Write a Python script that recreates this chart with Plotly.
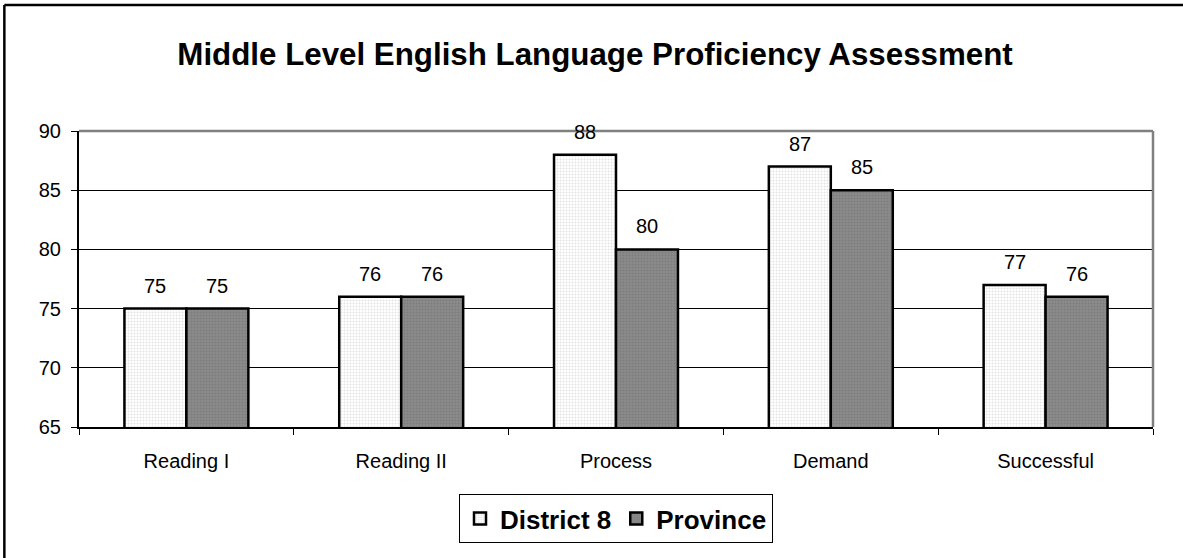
import plotly.graph_objects as go

# Assessment results by skill area
categories = ["Reading I", "Reading II", "Process", "Demand", "Successful"]
district8 = [75, 76, 88, 87, 77]
province = [75, 76, 80, 85, 76]
y_ticks = [65, 70, 75, 80, 85, 90]

font_family = "Liberation Sans, Arial, sans-serif"

fig = go.Figure()
fig.add_trace(go.Bar(
    name="District 8", x=categories, y=district8,
    marker=dict(color="white", line=dict(color="black", width=2.5),
                pattern=dict(shape=".", fgcolor="#c8c8c8", bgcolor="white", size=3, solidity=0.35)),
))
fig.add_trace(go.Bar(
    name="Province", x=categories, y=province,
    marker=dict(color="#808080", line=dict(color="black", width=2.5),
                pattern=dict(shape=".", fgcolor="#6e6e6e", bgcolor="#8a8a8a", size=3, solidity=0.35)),
))

# value labels above each bar
for vals, shift in [(district8, -31), (province, 31)]:
    for c, v in zip(categories, vals):
        fig.add_annotation(x=c, y=v, text=str(v), showarrow=False, xshift=shift, yshift=23,
                           yanchor="middle", font=dict(size=20, color="black", family=font_family))

# top and right plot border in grey
fig.add_shape(type="line", xref="paper", yref="paper", x0=0, x1=1, y0=1, y1=1,
              line=dict(color="#808080", width=2.5))
fig.add_shape(type="line", xref="paper", yref="paper", x0=1, x1=1, y0=0, y1=1,
              line=dict(color="#808080", width=2.5))

# outer chart frame: only its left and top edges fall inside the picture
fig.add_shape(type="line", xref="paper", yref="paper", x0=-0.0695, x1=1.2, y0=1.426, y1=1.426,
              line=dict(color="black", width=2.5), layer="below")
fig.add_shape(type="line", xref="paper", yref="paper", x0=-0.0695, x1=-0.0695, y0=-0.7, y1=1.426,
              line=dict(color="black", width=2.5), layer="below")

fig.update_layout(
    width=1183, height=558,
    margin=dict(l=79, r=30, t=131, b=131),
    paper_bgcolor="white", plot_bgcolor="white",
    barmode="group", bargap=0.423, bargroupgap=0,
    font=dict(family=font_family, color="black", size=20),
    title=dict(text="<b>Middle Level English Language Proficiency Assessment</b>",
               x=0.503, xanchor="center", y=0.903, yanchor="middle",
               font=dict(size=31.3, color="black", family=font_family)),
    showlegend=True,
    legend=dict(orientation="h", x=0.5, xanchor="center", y=-0.227, yanchor="top",
                bordercolor="black", borderwidth=1, bgcolor="white",
                font=dict(size=26, color="black", family=font_family, weight="bold"),
                itemwidth=30, traceorder="normal"),
)
fig.update_xaxes(showline=True, linecolor="black", linewidth=2,
                 ticks="outside", tickson="boundaries", ticklen=6, tickcolor="black",
                 tickfont=dict(size=20), ticklabelstandoff=15, showgrid=False)
fig.update_yaxes(range=[65, 90], tickvals=y_ticks, showline=True, linecolor="black", linewidth=2,
                 ticks="outside", ticklen=6, tickcolor="black", tickfont=dict(size=20),
                 ticklabelstandoff=6, showgrid=True, gridcolor="black", gridwidth=1, zeroline=False)

fig.write_html("out.html", config={"displayModeBar": False},
               post_script="document.body.style.margin='0';")
